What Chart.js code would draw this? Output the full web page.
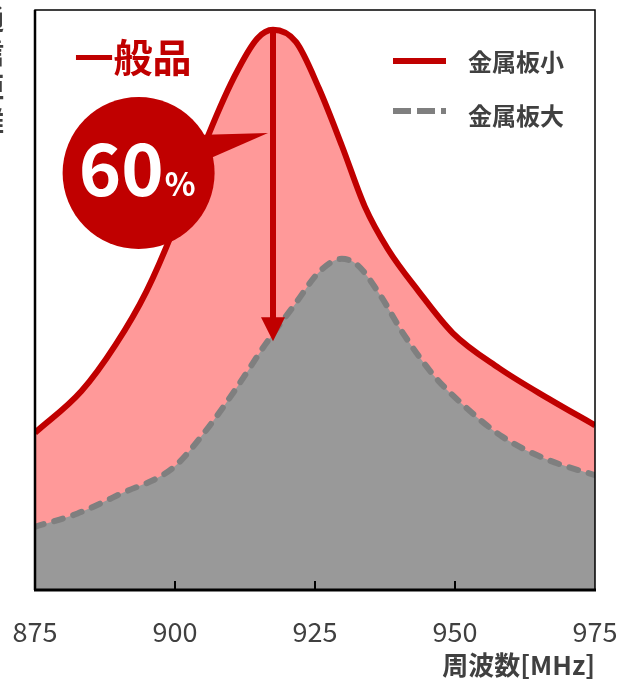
<!DOCTYPE html>
<html><head><meta charset="utf-8">
<script src="https://cdn.jsdelivr.net/npm/chart.js@4.4.1/dist/chart.umd.min.js"></script>
<style>html,body{margin:0;padding:0;background:#fff;overflow:hidden}#wrap{width:618px;height:681px;position:relative}</style>
</head><body><div id="wrap"><canvas id="c" width="618" height="681"></canvas></div>
<script>
// ---- data ----
const freqSmall = [875, 883.3, 889.4, 894.9, 899.7, 905.2, 910.6, 914.7, 917.5, 921.6, 925.7, 929.8, 933.9, 938, 943.5, 949.6, 957.8, 966.7, 975];
const valSmall  = [27.1, 34.3, 42.3, 51.5, 62.1, 76.6, 88.5, 95.1, 96.6, 94.5, 86.5, 76.6, 66.1, 58.8, 51.5, 44.3, 38.3, 33.0, 28.4];
const freqLarge = [875, 882.6, 890.1, 899.7, 905.2, 910.6, 916.1, 921.6, 925.7, 929.8, 932.5, 936.6, 940.7, 946.2, 951.7, 958.5, 966.7, 975];
const valLarge  = [10.9, 13.2, 16.5, 21.1, 27.1, 34.3, 42.3, 49.5, 54.8, 57.1, 56.1, 50.9, 44.3, 37.0, 31.7, 26.4, 22.4, 19.8];
const seriesLabels = ['金属板小', '金属板大'];
const xTicks = [875, 900, 925, 950, 975];
const xTitle = '周波数[MHz]';
const yTitle = '通信距離';
const noteTitle = '一般品';
const notePercent = '60';
// annotation anchors (data units)
const arrowFreq = 917.5, arrowFrom = 96.6, arrowTo = 42.9;
const bubbleFreq = 893.5, bubbleVal = 71.9;
const titleFreq = 892.5, titleVal = 91.9;

const FONT = "'Noto Sans CJK JP', 'Noto Sans', sans-serif";
const RED = '#C00000', TXT = '#404040';

const framePlugin = {
  id: 'frame',
  afterDatasetsDraw(chart) {
    const {ctx, chartArea: a, scales: {x}} = chart;
    ctx.save();
    ctx.strokeStyle = '#000';
    ctx.lineWidth = 1.5;
    ctx.strokeRect(a.left, a.top, a.right - a.left, a.bottom - a.top);
    ctx.lineWidth = 2.5;
    ctx.beginPath(); ctx.moveTo(a.left, a.top); ctx.lineTo(a.left, a.bottom); ctx.stroke();
    ctx.lineWidth = 3;
    ctx.beginPath(); ctx.moveTo(a.left - 1, a.bottom); ctx.lineTo(a.right + 1, a.bottom); ctx.stroke();
    ctx.lineWidth = 2;
    xTicks.slice(1, -1).forEach(v => {
      const px = x.getPixelForValue(v);
      ctx.beginPath(); ctx.moveTo(px, a.bottom); ctx.lineTo(px, a.bottom - 9); ctx.stroke();
    });
    ctx.restore();
  }
};

const notePlugin = {
  id: 'notes',
  afterDraw(chart) {
    const {ctx, chartArea: a, scales: {x, y}} = chart;
    ctx.save();
    // arrow
    const ax = x.getPixelForValue(arrowFreq);
    const ay0 = y.getPixelForValue(arrowFrom);
    const ay1 = y.getPixelForValue(arrowTo);
    const head = 24, hw = 12;
    ctx.strokeStyle = RED; ctx.fillStyle = RED; ctx.lineWidth = 6;
    ctx.beginPath(); ctx.moveTo(ax, ay0); ctx.lineTo(ax, ay1 - head + 2); ctx.stroke();
    ctx.beginPath(); ctx.moveTo(ax - hw, ay1 - head); ctx.lineTo(ax + hw, ay1 - head); ctx.lineTo(ax, ay1); ctx.closePath(); ctx.fill();
    // bubble
    const bx = x.getPixelForValue(bubbleFreq), by = y.getPixelForValue(bubbleVal), r = 76;
    ctx.beginPath(); ctx.arc(bx, by, r, 0, Math.PI * 2); ctx.fill();
    ctx.beginPath();
    ctx.moveTo(bx + 58, by - 38);
    ctx.lineTo(ax - 5, by - 40);
    ctx.lineTo(bx + 70, by - 14);
    ctx.closePath(); ctx.fill();
    // 60%
    ctx.fillStyle = '#fff';
    ctx.textBaseline = 'alphabetic';
    ctx.textAlign = 'left';
    ctx.font = 'bold 72px ' + FONT;
    const w60 = ctx.measureText(notePercent).width;
    ctx.font = 'bold 32px ' + FONT;
    const wp = ctx.measureText('%').width;
    const sx = bx - (w60 + wp) / 2 - 2;
    ctx.font = 'bold 72px ' + FONT;
    ctx.fillText(notePercent, sx, by + 23);
    ctx.font = 'bold 32px ' + FONT;
    ctx.fillText('%', sx + w60 + 1, by + 23);
    // title
    ctx.fillStyle = RED;
    ctx.textAlign = 'center'; ctx.textBaseline = 'middle';
    ctx.font = 'bold 39px ' + FONT;
    ctx.fillText(noteTitle, x.getPixelForValue(titleFreq), y.getPixelForValue(titleVal));
    // legend
    const ds = chart.data.datasets;
    const lx0 = a.left + 358, lx1 = a.left + 411, tx = a.left + 433;
    const rows = [a.top + 51, a.top + 101];
    ctx.lineWidth = 6; ctx.lineCap = 'butt';
    ctx.strokeStyle = ds[0].borderColor;
    ctx.beginPath(); ctx.moveTo(lx0, rows[0]); ctx.lineTo(lx1, rows[0]); ctx.stroke();
    ctx.strokeStyle = ds[1].borderColor;
    ctx.setLineDash([18, 6]);
    ctx.beginPath(); ctx.moveTo(lx0, rows[1]); ctx.lineTo(lx1, rows[1]); ctx.stroke();
    ctx.setLineDash([]);
    ctx.fillStyle = TXT; ctx.textAlign = 'left';
    ctx.font = 'bold 24px ' + FONT;
    ctx.fillText(ds[0].label, tx, rows[0] + 1);
    ctx.fillText(ds[1].label, tx, rows[1] + 5);
    // y title (vertical, cut at left edge)
    ctx.font = 'bold 28px ' + FONT;
    ctx.textAlign = 'center';
    [...yTitle].forEach((ch, i) => ctx.fillText(ch, -10, 19 + i * 34));
    ctx.restore();
  }
};

new Chart(document.getElementById('c'), {
  type: 'line',
  data: {
    datasets: [
      { label: seriesLabels[0], data: freqSmall.map((f, i) => ({x: f, y: valSmall[i]})),
        borderColor: RED, borderWidth: 6, backgroundColor: '#FF9999', fill: 'origin',
        pointRadius: 0, cubicInterpolationMode: 'monotone', order: 2 },
      { label: seriesLabels[1], data: freqLarge.map((f, i) => ({x: f, y: valLarge[i]})),
        borderColor: '#7F7F7F', borderWidth: 6, borderDash: [9, 11], borderCapStyle: 'round',
        backgroundColor: '#999999', fill: 'origin',
        pointRadius: 0, cubicInterpolationMode: 'monotone', order: 1 }
    ]
  },
  options: {
    responsive: false, animation: false, devicePixelRatio: 1,
    layout: { padding: { left: 35, right: 23, top: 10, bottom: 0 } },
    scales: {
      x: { type: 'linear', min: xTicks[0], max: xTicks[xTicks.length - 1],
        afterBuildTicks: s => { s.ticks = xTicks.map(v => ({value: v})); },
        afterFit: s => { s.paddingLeft = 0; s.paddingRight = 0; s.height = 91; },
        ticks: { padding: 26, color: TXT, font: { family: FONT, size: 27 } },
        grid: { display: false, drawTicks: false }, border: { display: false },
        title: { display: true, text: xTitle, align: 'end', color: TXT,
          font: { family: FONT, size: 26, weight: 'bold' }, padding: { top: 4, bottom: 0 } } },
      y: { display: false, min: 0, max: 100 }
    },
    plugins: { legend: { display: false }, tooltip: { enabled: false } }
  },
  plugins: [framePlugin, notePlugin]
});
</script></body></html>
